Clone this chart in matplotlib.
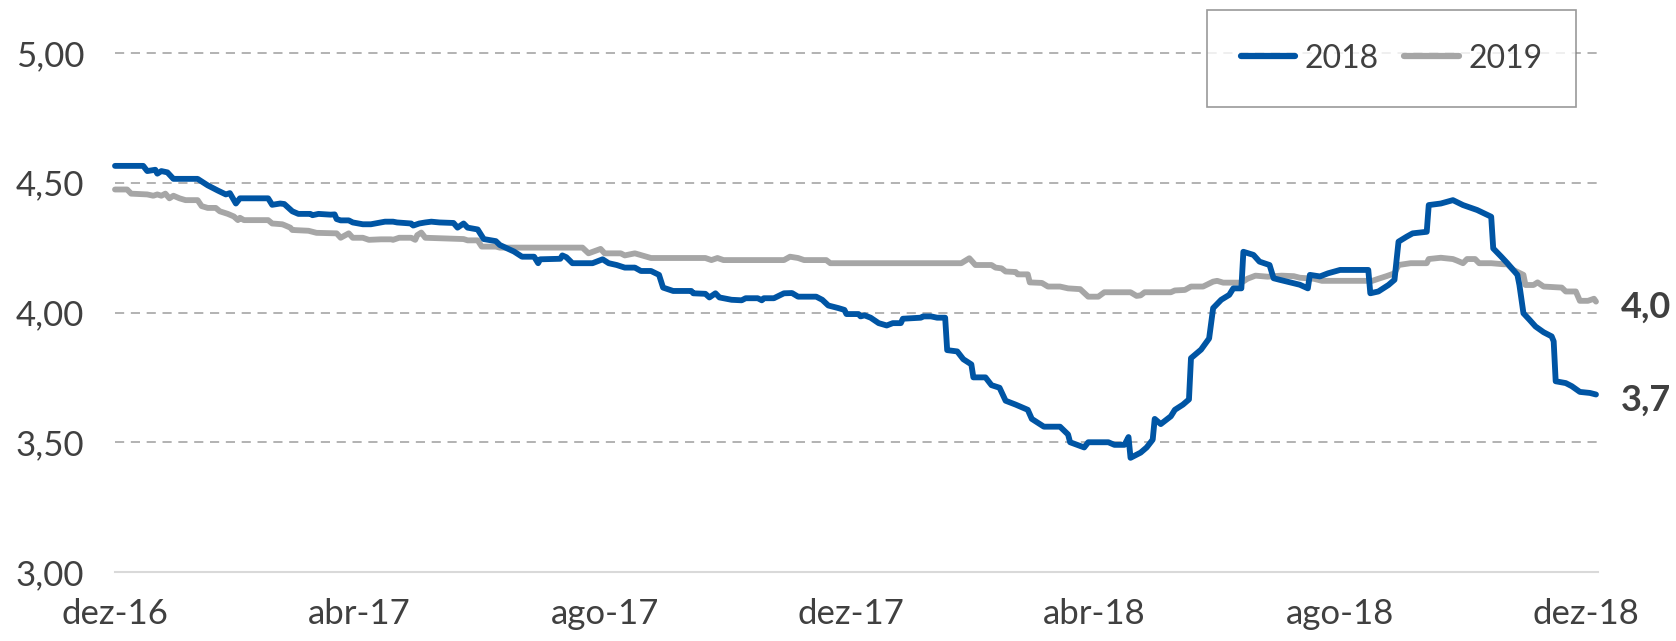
import matplotlib
matplotlib.use("Agg")
import matplotlib.pyplot as plt
import pandas as pd

# --- dados (dias desde 01/12/2016, valor) ---
inicio = pd.Timestamp("2016-12-01")

dias_2018 = [0, 14, 16, 20, 21, 23, 26, 29, 41, 46, 51, 55, 57, 60, 62, 76, 78, 82, 84, 88,
             91, 97, 98, 101, 107, 109, 110, 112, 116, 118, 123, 127, 134, 138, 140, 147, 148, 151, 154, 157,
             161, 168, 170, 173, 175, 180, 183, 189, 191, 198, 202, 208, 210, 211, 221, 222, 224, 227, 237, 242,
             245, 249, 253, 258, 261, 266, 270, 272, 277, 286, 287, 293, 295, 298, 300, 306, 311, 313, 319, 321,
             322, 327, 332, 336, 339, 348, 351, 354, 359, 362, 363, 369, 370, 372, 375, 379, 383, 386, 390, 391,
             400, 401, 405, 408, 412, 413, 418, 421, 425, 426, 432, 435, 439, 442, 447, 453, 455, 461, 469, 473,
             474, 481, 483, 493, 496, 501, 503, 504, 509, 512, 515, 516, 519, 524, 526, 530, 533, 534, 539, 543,
             545, 549, 553, 555, 559, 560, 565, 568, 573, 575, 578, 585, 588, 592, 593, 598, 602, 608, 622, 623,
             627, 632, 635, 637, 641, 644, 651, 652, 658, 664, 669, 676, 683, 684, 688, 691, 696, 697, 699, 702,
             705, 709, 713, 714, 715, 720, 723, 727, 732, 735]
valores_2018 = [4.565, 4.565, 4.545, 4.55, 4.535, 4.545, 4.54, 4.515, 4.515, 4.49, 4.47, 4.455, 4.46, 4.42, 4.44, 4.44, 4.415, 4.42, 4.418, 4.39,
                4.38, 4.38, 4.375, 4.38, 4.377, 4.378, 4.36, 4.355, 4.355, 4.347, 4.34, 4.34, 4.35, 4.35, 4.347, 4.343, 4.335, 4.343, 4.347, 4.35,
                4.347, 4.345, 4.327, 4.343, 4.327, 4.32, 4.283, 4.275, 4.26, 4.235, 4.215, 4.215, 4.19, 4.205, 4.207, 4.22, 4.213, 4.19, 4.19, 4.205,
                4.19, 4.183, 4.173, 4.173, 4.16, 4.16, 4.145, 4.096, 4.083, 4.083, 4.074, 4.072, 4.058, 4.074, 4.058, 4.049, 4.047, 4.055, 4.055, 4.047,
                4.055, 4.055, 4.074, 4.075, 4.061, 4.061, 4.049, 4.027, 4.017, 4.01, 3.994, 3.994, 3.985, 3.989, 3.98, 3.959, 3.95, 3.959, 3.959, 3.976,
                3.98, 3.985, 3.985, 3.98, 3.98, 3.855, 3.85, 3.82, 3.80, 3.75, 3.75, 3.72, 3.71, 3.66, 3.645, 3.625, 3.59, 3.56, 3.56, 3.53,
                3.50, 3.48, 3.50, 3.50, 3.49, 3.49, 3.52, 3.44, 3.46, 3.48, 3.51, 3.59, 3.57, 3.60, 3.625, 3.645, 3.665, 3.824, 3.857, 3.90,
                4.017, 4.049, 4.068, 4.093, 4.093, 4.234, 4.222, 4.196, 4.183, 4.132, 4.126, 4.113, 4.107, 4.093, 4.145, 4.139, 4.151, 4.164, 4.164, 4.074,
                4.081, 4.106, 4.126, 4.273, 4.292, 4.305, 4.311, 4.414, 4.42, 4.433, 4.414, 4.395, 4.369, 4.247, 4.215, 4.19, 4.145, 4.106, 3.997, 3.972,
                3.946, 3.924, 3.908, 3.889, 3.735, 3.728, 3.716, 3.694, 3.69, 3.684]

dias_2019 = [0, 6, 8, 16, 19, 21, 23, 25, 27, 29, 32, 35, 41, 43, 46, 50, 52, 56, 59, 61,
             62, 64, 76, 78, 83, 84, 87, 88, 96, 100, 110, 112, 116, 118, 123, 126, 132, 137, 138, 141,
             147, 149, 150, 152, 154, 173, 175, 180, 182, 189, 191, 216, 232, 235, 241, 243, 251, 253, 258, 266,
             293, 296, 299, 302, 332, 335, 339, 342, 353, 355, 420, 424, 427, 435, 437, 440, 442, 447, 448, 453,
             454, 460, 463, 469, 473, 479, 483, 488, 491, 504, 507, 509, 511, 524, 526, 531, 534, 540, 545, 547,
             550, 559, 562, 566, 572, 579, 585, 588, 595, 599, 624, 627, 631, 635, 637, 643, 651, 652, 658, 664,
             666, 669, 671, 675, 677, 683, 689, 691, 694, 699, 700, 704, 706, 709, 718, 720, 725, 727, 731, 734,
             735]
valores_2019 = [4.474, 4.474, 4.458, 4.455, 4.45, 4.455, 4.45, 4.458, 4.44, 4.45, 4.44, 4.433, 4.433, 4.41, 4.403, 4.403, 4.39, 4.38, 4.37, 4.356,
                4.365, 4.356, 4.356, 4.343, 4.34, 4.337, 4.327, 4.318, 4.315, 4.307, 4.305, 4.288, 4.305, 4.288, 4.288, 4.28, 4.282, 4.282, 4.28, 4.288,
                4.288, 4.28, 4.298, 4.308, 4.288, 4.283, 4.278, 4.278, 4.254, 4.254, 4.25, 4.25, 4.25, 4.228, 4.245, 4.228, 4.228, 4.22, 4.228, 4.21,
                4.21, 4.202, 4.21, 4.202, 4.202, 4.215, 4.21, 4.202, 4.202, 4.19, 4.19, 4.209, 4.183, 4.183, 4.173, 4.17, 4.158, 4.156, 4.147, 4.147,
                4.116, 4.114, 4.10, 4.10, 4.093, 4.09, 4.061, 4.061, 4.078, 4.078, 4.064, 4.066, 4.078, 4.078, 4.085, 4.087, 4.10, 4.10, 4.119, 4.122,
                4.115, 4.115, 4.13, 4.142, 4.138, 4.142, 4.14, 4.134, 4.13, 4.122, 4.122, 4.13, 4.14, 4.151, 4.183, 4.19, 4.19, 4.206, 4.211, 4.206,
                4.20, 4.19, 4.206, 4.206, 4.19, 4.19, 4.186, 4.186, 4.164, 4.145, 4.106, 4.106, 4.116, 4.10, 4.096, 4.081, 4.081, 4.045, 4.045, 4.053,
                4.042]

rotulo_2018 = "3,7"
rotulo_2019 = "4,0"

meses_ticks = ["2016-12-01", "2017-04-01", "2017-08-01", "2017-12-01", "2018-04-01", "2018-08-01", "2018-12-01"]
meses_labels = ["dez-16", "abr-17", "ago-17", "dez-17", "abr-18", "ago-18", "dez-18"]
y_ticks = [3.0, 3.5, 4.0, 4.5, 5.0]
y_labels = ["3,00", "3,50", "4,00", "4,50", "5,00"]

# --- estilo ---
azul = "#0055A4"
cinza = "#A6A6A6"
texto = "#404040"
plt.rcParams["font.family"] = ["Lato", "DejaVu Sans"]

x18 = inicio + pd.to_timedelta(dias_2018, unit="D")
x19 = inicio + pd.to_timedelta(dias_2019, unit="D")

fig = plt.figure(figsize=(16.76, 6.41), dpi=100)
ax = fig.add_axes([115 / 1676, 69 / 641, (1598 - 115) / 1676, (570 - 51) / 641])

ax.plot(x18, valores_2018, color=azul, lw=4.2, label="2018", solid_joinstyle="round",
        solid_capstyle="round", clip_on=False, zorder=3)
ax.plot(x19, valores_2019, color=cinza, lw=4.2, label="2019", solid_joinstyle="round",
        solid_capstyle="round", clip_on=False, zorder=2)

ax.set_xlim(inicio, inicio + pd.Timedelta(days=736))
ax.set_ylim(3, 5)

ax.set_xticks(pd.to_datetime(meses_ticks))
ax.set_xticklabels(meses_labels)
ax.set_yticks(y_ticks)
ax.set_yticklabels(y_labels)
ax.tick_params(axis="both", length=0, labelsize=25, colors=texto)
ax.tick_params(axis="x", pad=19)
ax.tick_params(axis="y", pad=22)

for y in y_ticks[1:]:
    ax.axhline(y, color=cinza, lw=1.2, ls=(0, (5.5, 4)), zorder=1, clip_on=False)

for s in ["top", "right", "left"]:
    ax.spines[s].set_visible(False)
ax.spines["bottom"].set_color("#D9D9D9")
ax.spines["bottom"].set_linewidth(1.5)

# rotulos finais
ax.annotate(rotulo_2019, xy=(x19[-1], valores_2019[-1]), xytext=(18, -4), textcoords="offset points",
            ha="left", va="center", fontsize=26, fontweight="bold", color=texto, annotation_clip=False)
ax.annotate(rotulo_2018, xy=(x18[-1], valores_2018[-1]), xytext=(18, -4), textcoords="offset points",
            ha="left", va="center", fontsize=26, fontweight="bold", color=texto, annotation_clip=False)

leg = ax.legend(loc="upper right", bbox_to_anchor=(1576 / 1676, 1 - 10 / 641),
                bbox_transform=fig.transFigure, ncol=2, fontsize=23, frameon=True,
                fancybox=False, borderpad=1.05, handlelength=1.7, handletextpad=0.3,
                columnspacing=0.8, borderaxespad=0)
leg.get_frame().set_edgecolor("#808080")
leg.get_frame().set_linewidth(1.2)
for t in leg.get_texts():
    t.set_color(texto)
for h in leg.get_lines():
    h.set_linewidth(4.5)

fig.savefig("out.png", dpi=100)
